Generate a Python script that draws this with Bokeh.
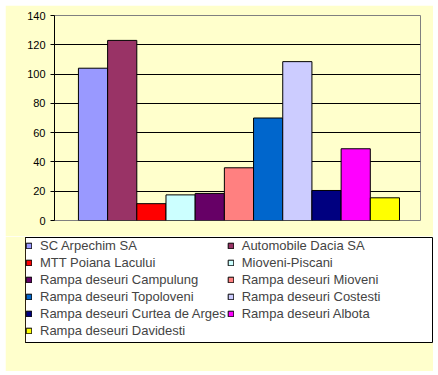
from bokeh.plotting import figure
from bokeh.layouts import column, row
from bokeh.models import ColumnDataSource, Range1d, FixedTicker, Legend, LegendItem
from bokeh.embed import file_html
from bokeh.resources import INLINE

names = ["SC Arpechim SA", "Automobile Dacia SA", "MTT Poiana Lacului", "Mioveni-Piscani",
         "Rampa deseuri Campulung", "Rampa deseuri Mioveni", "Rampa deseuri Topoloveni",
         "Rampa deseuri Costesti", "Rampa deseuri Curtea de Arges", "Rampa deseuri Albota",
         "Rampa deseuri Davidesti"]
values = [104, 123, 11.5, 17.5, 18.5, 36, 70, 108.5, 20.5, 49, 15.5]
colors = ["#9999FF", "#993366", "#FF0000", "#CCFFFF", "#660066", "#FF8080",
          "#0066CC", "#CCCCFF", "#000080", "#FF00FF", "#FFFF00"]
y_ticks = [0, 20, 40, 60, 80, 100, 120, 140]

BG = "#FFFFCC"
positions = [i + 0.5 for i in range(len(values))]
src = ColumnDataSource(dict(x=positions, top=values, color=colors, name=names))

p = figure(width=428, height=231, output_backend="svg", toolbar_location=None,
           x_range=Range1d(-0.82, 11.72), y_range=Range1d(0, 140),
           min_border_left=49, min_border_right=13, min_border_top=10, min_border_bottom=16,
           background_fill_color=BG, border_fill_color=BG,
           outline_line_color="#808080")

r = p.vbar(x="x", top="top", width=1, bottom=0, source=src, fill_color="color",
           line_color="black", line_width=1)

p.xaxis.visible = False
p.xgrid.visible = False
p.yaxis.ticker = FixedTicker(ticks=y_ticks)
p.yaxis.axis_line_color = "black"
p.yaxis.major_tick_line_color = "black"
p.yaxis.major_tick_out = 4
p.yaxis.major_tick_in = 0
p.yaxis.minor_tick_line_color = None
p.yaxis.major_label_text_font = "Liberation Sans"
p.yaxis.major_label_text_font_size = "11px"
p.yaxis.major_label_text_color = "black"
p.yaxis.major_label_standoff = 5
p.ygrid.ticker = FixedTicker(ticks=y_ticks[1:-1])
p.ygrid.grid_line_color = "black"
p.ygrid.grid_line_width = 1

# legend panel
q = figure(width=428, height=135, output_backend="svg", toolbar_location=None,
           x_range=Range1d(100, 101), y_range=Range1d(0, 1),
           min_border_left=20, min_border_right=1, min_border_top=1, min_border_bottom=29,
           background_fill_color="white", border_fill_color=BG,
           outline_line_color="black", outline_line_width=1)
q.axis.visible = False
q.grid.visible = False
r2 = q.vbar(x="x", top="top", width=1, bottom=0, source=src, fill_color="color",
            line_color="black", line_width=1)

# Bokeh fills legend columns first; order so that it reads row by row
order = list(range(0, len(names), 2)) + list(range(1, len(names), 2))
items = [LegendItem(label=names[i], renderers=[r2], index=i) for i in order]
legend = Legend(items=items, location="top_left", ncols=2,
                border_line_color=None, background_fill_alpha=0,
                padding=5, spacing=1, glyph_width=7, glyph_height=7, label_standoff=8,
                label_height=16, label_text_font="Liberation Sans", label_text_font_size="13px",
                margin=0)
q.add_layout(legend, "center")

layout = column(p, row(q, spacing=0), spacing=0, margin=(5, 0, 0, 5))
open("out.html", "w").write(file_html(layout, INLINE))
